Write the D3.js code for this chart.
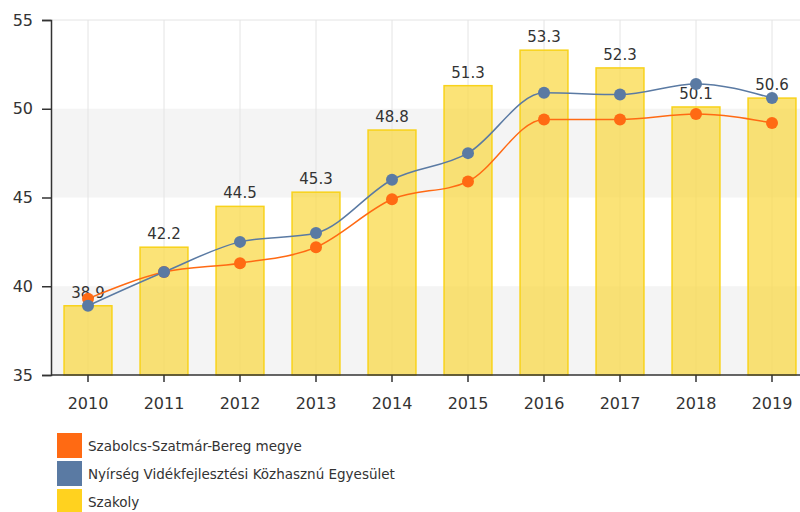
<!DOCTYPE html>
<html>
<head>
<meta charset="utf-8">
<script src="https://cdn.jsdelivr.net/npm/d3@7"></script>
<style>
  body { margin: 0; background: #fff; }
  svg { font-family: "DejaVu Sans", Verdana, sans-serif; }
</style>
</head>
<body>
<svg id="chart" width="800" height="512"></svg>
<script>
// data
const years = ["2010", "2011", "2012", "2013", "2014", "2015", "2016", "2017", "2018", "2019"];
const szakoly = [38.9, 42.2, 44.5, 45.3, 48.8, 51.3, 53.3, 52.3, 50.1, 50.6];
const megye = [39.3, 40.8, 41.3, 42.2, 44.9, 45.9, 49.4, 49.4, 49.7, 49.2];
const egyesulet = [38.9, 40.8, 42.5, 43.0, 46.0, 47.5, 50.9, 50.8, 51.4, 50.6];
const yTicks = [35, 40, 45, 50, 55];
const legendNames = ["Szabolcs-Szatmár-Bereg megye", "Nyírség Vidékfejlesztési Közhasznú Egyesület", "Szakoly"];
const legendColors = ["#ff6a13", "#5a7aa3", "#ffd21f"];

const svg = d3.select("#chart");
const plotLeft = 51, plotTop = 20, plotBottom = 375;

const x = d3.scaleBand().domain(years).range([50, 810]).paddingInner(0.37).paddingOuter(0.185);
const y = d3.scaleLinear().domain([35, 55]).range([plotBottom, plotTop]);
const cx = (d) => x(d) + x.bandwidth() / 2;

// alternate bands
svg.selectAll(".band")
  .data([[35, 40], [45, 50]])
  .enter()
  .append("rect")
  .attr("x", plotLeft)
  .attr("width", 800 - plotLeft)
  .attr("y", (d) => y(d[1]))
  .attr("height", (d) => y(d[0]) - y(d[1]))
  .attr("fill", "#f4f4f4");

// vertical grid lines
svg.selectAll(".vgrid")
  .data(years)
  .enter()
  .append("line")
  .attr("x1", cx).attr("x2", cx)
  .attr("y1", plotTop).attr("y2", plotBottom)
  .attr("stroke", "#e4e4e4");

// top grid line
svg.append("line")
  .attr("x1", plotLeft).attr("x2", 800)
  .attr("y1", y(55)).attr("y2", y(55))
  .attr("stroke", "#e4e4e4");

// bars
svg.selectAll(".bar")
  .data(szakoly)
  .enter()
  .append("rect")
  .attr("x", (d, i) => x(years[i]))
  .attr("width", x.bandwidth())
  .attr("y", (d) => y(d))
  .attr("height", (d) => plotBottom - y(d))
  .attr("fill", "#f9d94a")
  .attr("fill-opacity", 0.75)
  .attr("stroke", "#f8d21a")
  .attr("stroke-width", 1.5);

// bar labels
svg.selectAll(".blabel")
  .data(szakoly)
  .enter()
  .append("text")
  .attr("x", (d, i) => cx(years[i]))
  .attr("y", (d) => y(d) - 8)
  .attr("text-anchor", "middle")
  .attr("font-size", 15)
  .attr("fill", "#333")
  .text((d) => d.toFixed(1));

// lines
const line = d3.line().x((d, i) => cx(years[i])).y((d) => y(d)).curve(d3.curveMonotoneX);

[[megye, legendColors[0]], [egyesulet, legendColors[1]]].forEach(([vals, col]) => {
  svg.append("path")
    .datum(vals)
    .attr("d", line)
    .attr("fill", "none")
    .attr("stroke", col)
    .attr("stroke-width", 1.5);
});

[[megye, legendColors[0]], [egyesulet, legendColors[1]]].forEach(([vals, col]) => {
  svg.selectAll(null)
    .data(vals)
    .enter()
    .append("circle")
    .attr("cx", (d, i) => cx(years[i]))
    .attr("cy", (d) => y(d))
    .attr("r", 6)
    .attr("fill", col);
});

// axes
const yAxis = svg.append("g")
  .attr("transform", `translate(${plotLeft},0)`)
  .call(d3.axisLeft(y).tickValues(yTicks).tickSize(9).tickPadding(9));
const xAxis = svg.append("g")
  .attr("transform", `translate(0,${plotBottom})`)
  .call(d3.axisBottom(x).tickSize(7).tickPadding(16).tickSizeOuter(0));
xAxis.select(".domain").attr("d", `M${plotLeft},0H800`);

[yAxis, xAxis].forEach((g) => {
  g.selectAll("text").attr("font-size", 16).attr("fill", "#333").attr("font-family", "DejaVu Sans, Verdana, sans-serif");
  g.selectAll("line").attr("stroke", "#333").attr("stroke-width", 1.5);
  g.select(".domain").attr("stroke", "#333").attr("stroke-width", 1.5);
});

// legend
const legend = svg.append("g").attr("transform", "translate(57,433)");
legendNames.forEach((name, i) => {
  const row = legend.append("g").attr("transform", `translate(0,${i * 28})`);
  row.append("rect").attr("width", 25).attr("height", 25).attr("fill", legendColors[i]);
  row.append("text")
    .attr("x", 31)
    .attr("y", 17.5)
    .attr("font-size", 13.5)
    .attr("fill", "#333")
    .text(name);
});
</script>
</body>
</html>
